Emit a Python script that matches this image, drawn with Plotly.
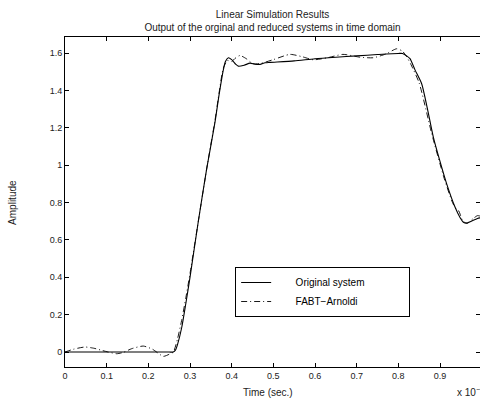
import plotly.graph_objects as go

# Original system (time in units of 1e-9 s)
orig_t = [0.0, 0.10, 0.20, 0.25, 0.26, 0.265, 0.27, 0.28, 0.29, 0.30, 0.32, 0.34, 0.36, 0.37,
          0.38, 0.385, 0.392, 0.40, 0.41, 0.416, 0.43, 0.444, 0.456, 0.468, 0.48, 0.492,
          0.55, 0.60, 0.65, 0.70, 0.75, 0.80, 0.81, 0.82, 0.828, 0.84, 0.856, 0.87, 0.884,
          0.90, 0.916, 0.936, 0.948, 0.956, 0.965, 0.975, 0.99, 1.0]
orig_y = [0.0, 0.0, 0.0, 0.0, 0.0, 0.01, 0.04, 0.13, 0.26, 0.40, 0.70, 0.98, 1.23, 1.38,
          1.51, 1.555, 1.575, 1.565, 1.54, 1.53, 1.535, 1.546, 1.54, 1.539, 1.548, 1.55,
          1.558, 1.57, 1.578, 1.585, 1.592, 1.598, 1.598, 1.585, 1.57, 1.51, 1.436, 1.30, 1.15,
          1.02, 0.90, 0.776, 0.72, 0.695, 0.69, 0.70, 0.715, 0.72]

# FABT-Arnoldi reduced model
fabt_t = [0.0, 0.02, 0.048, 0.07, 0.09, 0.104, 0.124, 0.14, 0.16, 0.188, 0.21, 0.236, 0.25,
          0.26, 0.27, 0.28, 0.29, 0.30, 0.32, 0.34, 0.36, 0.37, 0.38, 0.39, 0.40, 0.41, 0.42,
          0.435, 0.451, 0.47, 0.50, 0.54, 0.57, 0.596, 0.63, 0.667, 0.708, 0.74, 0.77, 0.796,
          0.81, 0.82, 0.83, 0.85, 0.88, 0.91, 0.93, 0.94, 0.945, 0.955, 0.965, 0.98, 0.99, 1.0]
fabt_y = [0.0, 0.015, 0.027, 0.02, 0.008, 0.0, -0.009, -0.002, 0.018, 0.032, 0.015, -0.023, -0.012,
          0.0, 0.07, 0.17, 0.29, 0.42, 0.70, 0.98, 1.24, 1.39, 1.52, 1.56, 1.555, 1.575, 1.587,
          1.57, 1.543, 1.545, 1.565, 1.593, 1.58, 1.564, 1.575, 1.593, 1.578, 1.575, 1.595, 1.623,
          1.61, 1.58, 1.54, 1.44, 1.17, 0.93, 0.80, 0.76, 0.755, 0.70, 0.69, 0.715, 0.73, 0.725]

x_ticks = [0, 0.1, 0.2, 0.3, 0.4, 0.5, 0.6, 0.7, 0.8, 0.9]
x_tick_labels = ["0", "0.1", "0.2", "0.3", "0.4", "0.5", "0.6", "0.7", "0.8", "0.9"]
y_ticks = [0, 0.2, 0.4, 0.6, 0.8, 1.0, 1.2, 1.4, 1.6]
y_tick_labels = ["0", "0.2", "0.4", "0.6", "0.8", "1", "1.2", "1.4", "1.6"]

FONT = "Liberation Sans, Arial, sans-serif"
NB = "\u00a0"

fig = go.Figure()
fig.add_trace(go.Scatter(x=orig_t, y=orig_y, mode="lines",
                         name=NB * 7 + "Original system" + NB * 14,
                         line=dict(color="black", width=1.1, shape="spline", smoothing=0.6)))
fig.add_trace(go.Scatter(x=fabt_t, y=fabt_y, mode="lines",
                         name=NB * 7 + "FABT\u2212Arnoldi" + NB * 14,
                         line=dict(color="black", width=0.9, dash="6px,3px,1px,3px",
                                   shape="spline", smoothing=0.6)))

axis_common = dict(showgrid=False, zeroline=False, showline=True, linecolor="black",
                   linewidth=1, mirror="ticks", ticks="inside", ticklen=4,
                   tickcolor="black", tickfont=dict(family=FONT, size=9, color="#222"))

fig.update_layout(
    width=480, height=402,
    margin=dict(l=65, r=0, t=37, b=35, autoexpand=False),
    paper_bgcolor="white", plot_bgcolor="white",
    showlegend=True,
    title=dict(text="Linear Simulation Results<br>Output of the orginal and reduced systems in time domain",
               x=0.5, xref="paper", xanchor="center", y=0.954, yanchor="top",
               font=dict(family=FONT, size=10, color="#222")),
    xaxis=dict(range=[0, 0.996], tickvals=x_ticks, ticktext=x_tick_labels, **axis_common),
    yaxis=dict(range=[-0.08, 1.686], tickvals=y_ticks, ticktext=y_tick_labels, **axis_common),
    legend=dict(x=0.41, y=0.303, xanchor="left", yanchor="top",
                bordercolor="black", borderwidth=1, bgcolor="white",
                font=dict(family=FONT, size=10, color="black")),
    annotations=[
        dict(text="Time (sec.)", xref="paper", yref="paper", x=0.489, y=-0.076,
             xanchor="center", yanchor="middle", showarrow=False,
             font=dict(family=FONT, size=10, color="#222")),
        dict(text="Amplitude", xref="paper", yref="paper", x=-0.128, y=0.5,
             textangle=-90, xanchor="center", yanchor="middle", showarrow=False,
             font=dict(family=FONT, size=10, color="#222")),
        dict(text="x 10<sup>\u22129</sup>", xref="paper", yref="paper", x=0.94, y=-0.076,
             xanchor="left", yanchor="middle", showarrow=False,
             font=dict(family=FONT, size=10, color="#222")),
    ],
)

fig.write_html("out.html", config={"displayModeBar": False},
               post_script="document.body.style.margin='0';document.body.style.overflow='hidden';")
